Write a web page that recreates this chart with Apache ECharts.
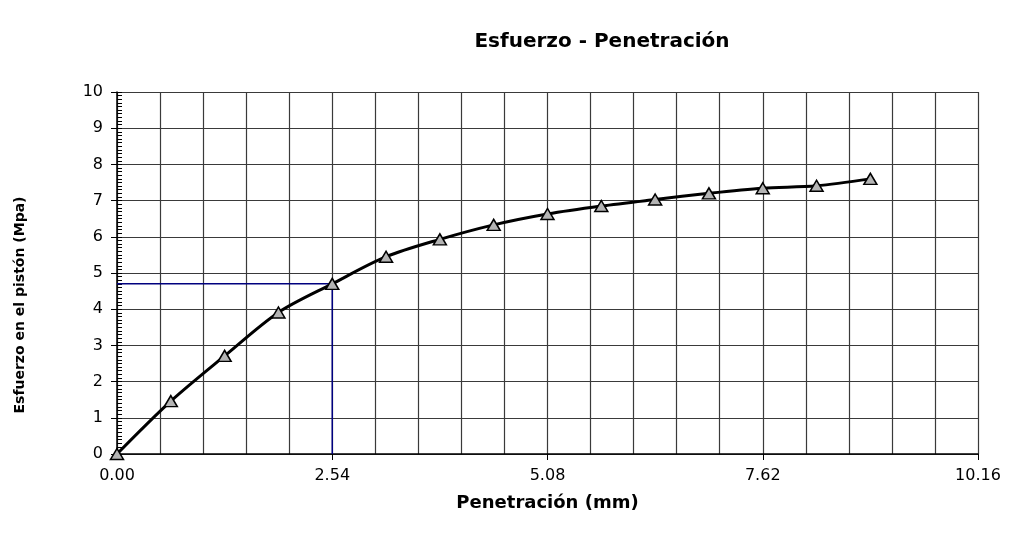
<!DOCTYPE html>
<html>
<head>
<meta charset="utf-8">
<script src="https://cdn.jsdelivr.net/npm/echarts@6/dist/echarts.min.js"></script>
<style>
  html, body { margin: 0; padding: 0; background: #fff; }
  #grafico { width: 1015px; height: 542px; }
</style>
</head>
<body>
<div id="grafico"></div>
<script>
// datos
let penetracion = [0, 0.635, 1.27, 1.905, 2.54, 3.175, 3.81, 4.445, 5.08, 5.715, 6.35, 6.985, 7.62, 8.255, 8.89];
let esfuerzo = [0, 1.46, 2.71, 3.91, 4.70, 5.45, 5.93, 6.33, 6.63, 6.85, 7.03, 7.20, 7.34, 7.41, 7.60];
let referencia = [[0, 4.70], [2.54, 4.70], [2.54, 0]];
let xTicks = [0, 2.54, 5.08, 7.62, 10.16];

let fuente = 'DejaVu Sans';
let puntos = penetracion.map((x, i) => [x, esfuerzo[i]]);

var grafico = document.getElementById('grafico');
var myChart = echarts.init(grafico);

var options = {
  animation: false,
  title: {
    text: 'Esfuerzo - Penetración',
    left: 597,
    top: 27,
    textAlign: 'center',
    textStyle: { fontFamily: fuente, fontSize: 20, fontWeight: 'bold', color: '#000' }
  },
  // nombre del eje Y (un poco mas abajo que el centro del area)
  graphic: [{
    type: 'text',
    x: 20,
    y: 305,
    rotation: Math.PI / 2,
    style: {
      text: 'Esfuerzo en el pistón (Mpa)',
      fontFamily: fuente, fontSize: 14, fontWeight: 'bold', fill: '#000',
      align: 'center', verticalAlign: 'middle'
    }
  }],
  grid: { left: 117, right: 37, top: 92, bottom: 88 },
  xAxis: {
    type: 'value',
    min: xTicks[0],
    max: xTicks[xTicks.length - 1],
    interval: 2.54,
    name: 'Penetración (mm)',
    nameLocation: 'middle',
    nameGap: 40,
    nameTextStyle: { fontFamily: fuente, fontSize: 18, fontWeight: 'bold', color: '#000' },
    axisLine: { show: true, onZero: false, lineStyle: { color: '#000', width: 1.5 } },
    axisTick: { show: true, length: 6, lineStyle: { color: '#000' } },
    axisLabel: {
      margin: 14,
      fontFamily: fuente, fontSize: 16, color: '#000',
      formatter: v => v.toFixed(2)
    },
    splitLine: { show: true, lineStyle: { color: '#3a3a3a', width: 1.2 } },
    minorTick: { show: false, splitNumber: 5 },
    minorSplitLine: { show: true, lineStyle: { color: '#3a3a3a', width: 1.2 } }
  },
  yAxis: [{
    type: 'value',
    min: 0,
    max: 10,
    interval: 1,
    axisLine: { show: true, lineStyle: { color: '#000', width: 1.5 } },
    axisTick: { show: true, inside: true, length: 5, lineStyle: { color: '#000' } },
    minorTick: { show: true, splitNumber: 10, length: 5, lineStyle: { color: '#000' } },
    axisLabel: { margin: 14, fontFamily: fuente, fontSize: 16, color: '#000' },
    splitLine: { show: true, lineStyle: { color: '#3a3a3a', width: 1.2 } }
  }, {
    // solo las marcas mayores hacia afuera
    type: 'value',
    min: 0,
    max: 10,
    interval: 1,
    position: 'left',
    axisLine: { show: false },
    axisTick: { show: true, length: 6, lineStyle: { color: '#000' } },
    axisLabel: { show: false },
    splitLine: { show: false }
  }],
  series: [
    {
      type: 'line',
      data: referencia,
      symbol: 'none',
      lineStyle: { color: '#00007f', width: 1.5 },
      z: 2
    },
    {
      type: 'line',
      data: puntos,
      smooth: 0.3,
      symbol: 'triangle',
      symbolSize: [13, 11],
      lineStyle: { color: '#000', width: 3 },
      itemStyle: { color: '#b4b4b4', borderColor: '#000', borderWidth: 1.5 },
      z: 3
    }
  ]
};
myChart.setOption(options);
</script>
</body>
</html>
